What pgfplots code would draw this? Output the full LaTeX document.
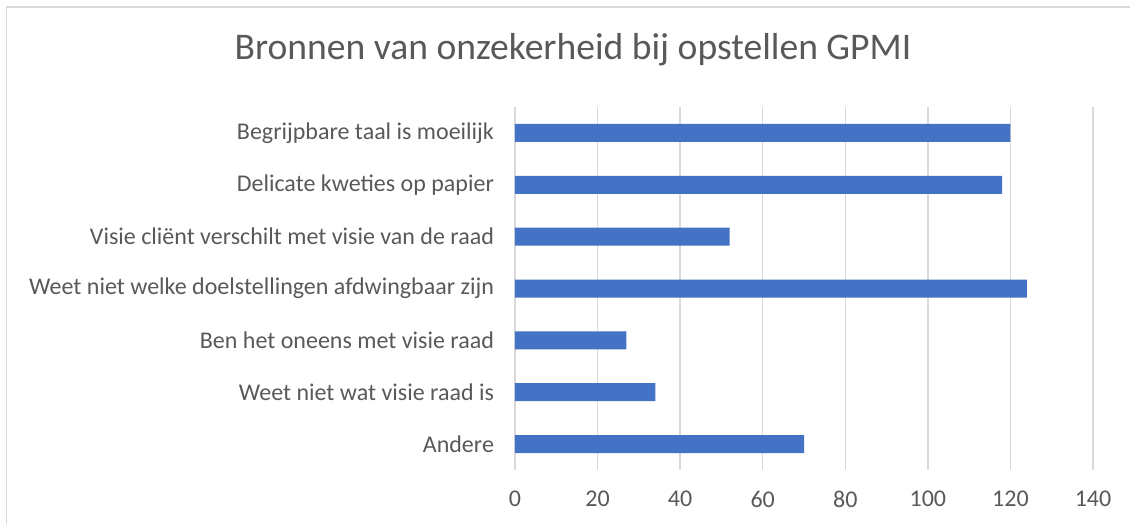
\documentclass[border=0pt]{standalone}
\usepackage{pgfplots}
\pgfplotsset{compat=1.18}
\usepackage{fontspec}
\setmainfont{Carlito}
\definecolor{barblue}{HTML}{4472C4}
\definecolor{txtgray}{HTML}{595959}
\definecolor{gridgray}{HTML}{D9D9D9}
\begin{document}
\begin{tikzpicture}
\useasboundingbox (0,0) rectangle (565pt,262pt);
\draw[gridgray, line width=0.9pt] (3.2pt,-2pt) -- (3.2pt,258.3pt) -- (567pt,258.3pt);
\node[text=txtgray, font=\fontsize{18.8}{21}\selectfont] at (286.5pt,237pt) {Bronnen van onzekerheid bij opstellen GPMI};
\begin{axis}[
  at={(257.5pt,27pt)}, anchor=south west,
  scale only axis, width=289pt, height=181.5pt,
  xbar, bar width=9pt,
  xmin=0, xmax=140, xtick={0,20,...,140},
  ymin=-0.5, ymax=6.5,
  ytick={0,1,2,3,4,5,6},
  yticklabels={Andere, Weet niet wat visie raad is, Ben het oneens met visie raad, Weet niet welke doelstellingen afdwingbaar zijn, Visie cliënt verschilt met visie van de raad, Delicate kweties op papier, Begrijpbare taal is moeilijk},
  axis line style={draw=none},
  major tick length=0pt,
  xmajorgrids, grid style={gridgray, line width=0.75pt},
  ticklabel style={text=txtgray, font=\fontsize{12}{14}\selectfont},
  /pgf/number format/assume math mode=true,
  yticklabel style={xshift=-7pt},
  xticklabel style={yshift=-7pt},
]
\addplot[fill=barblue, draw=none] coordinates {
(70,0) (34,1) (27,2) (124,3) (52,4) (118,5) (120,6)
};
\end{axis}
\end{tikzpicture}
\end{document}
